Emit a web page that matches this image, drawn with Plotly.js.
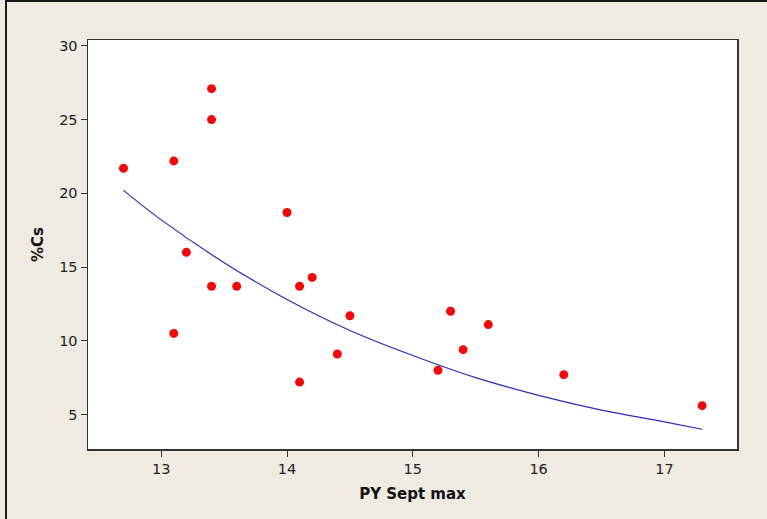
<!DOCTYPE html>
<html>
<head>
<meta charset="utf-8">
<script src="https://cdn.plot.ly/plotly-3.0.1.min.js"></script>
<style>
html,body{margin:0;padding:0;background:#f4f1ea;}
#wrap{position:absolute;left:0;top:0;width:767px;height:519px;overflow:hidden;}
#chart{position:absolute;left:0;top:0;width:767px;height:519px;}
#frame{position:absolute;left:5px;top:0;width:762px;height:519px;border-left:2px solid #1a1a1a;border-top:2px solid #1a1a1a;box-sizing:border-box;pointer-events:none;}
</style>
</head>
<body>
<div id="wrap">
<div id="chart"></div>
<div id="frame"></div>
</div>
<script>
// Observed data points
const pySeptMax = [12.7, 13.1, 13.1, 13.2, 13.4, 13.4, 13.4, 13.6, 14.0, 14.1, 14.1, 14.2, 14.4, 14.5, 15.2, 15.3, 15.4, 15.6, 16.2, 17.3];
const pctCs     = [21.7, 22.2, 10.5, 16.0, 27.1, 25.0, 13.7, 13.7, 18.7, 13.7, 7.2, 14.3, 9.1, 11.7, 8.0, 12.0, 9.4, 11.1, 7.7, 5.6];

// Fitted curve, values
const fitX = [12.7, 13.0, 13.5, 14.0, 14.5, 15.0, 15.5, 16.0, 16.5, 17.0, 17.3];
const fitY = [20.2, 18.2, 15.3, 12.8, 10.7, 9.0, 7.5, 6.3, 5.3, 4.5, 4.0];

// Axis ticks
const xTicks = [13, 14, 15, 16, 17];
const yTicks = [5, 10, 15, 20, 25, 30];

const font = "Tahoma, 'DejaVu Sans', Verdana, sans-serif";

const traces = [
  {
    x: fitX, y: fitY, type: 'scatter', mode: 'lines',
    line: {color: '#2a2ab8', width: 1.2, shape: 'spline'},
    hoverinfo: 'skip', showlegend: false
  },
  {
    x: pySeptMax, y: pctCs, type: 'scatter', mode: 'markers',
    marker: {color: '#f00a0a', size: 9, symbol: 'circle'},
    showlegend: false
  }
];

const layout = {
  width: 767, height: 519,
  margin: {l: 88, r: 30, t: 40, b: 70},
  paper_bgcolor: '#f0ebe2',
  plot_bgcolor: '#ffffff',
  font: {family: font, size: 14, color: '#222222'},
  xaxis: {
    range: [12.418, 17.577],
    tickvals: xTicks, ticktext: xTicks.map(String),
    ticks: 'outside', ticklen: 6, tickwidth: 1, tickcolor: '#333333',
    showline: true, linecolor: '#333333', linewidth: 1.5, mirror: true,
    showgrid: false, zeroline: false,
    tickfont: {family: font, size: 14.5, color: '#222222'},
    title: {text: '<b>PY Sept max</b>', font: {family: font, size: 15, color: '#111111'}, standoff: 12}
  },
  yaxis: {
    range: [2.66, 30.4],
    tickvals: yTicks, ticktext: yTicks.map(String),
    ticks: 'outside', ticklen: 6, tickwidth: 1, tickcolor: '#333333',
    showline: true, linecolor: '#333333', linewidth: 1.5, mirror: true,
    showgrid: false, zeroline: false,
    tickfont: {family: font, size: 14.5, color: '#222222'},
    title: {text: '<b>%Cs</b>', font: {family: font, size: 15, color: '#111111'}, standoff: 12}
  }
};

Plotly.newPlot('chart', traces, layout, {displayModeBar: false, staticPlot: true});
</script>
</body>
</html>
